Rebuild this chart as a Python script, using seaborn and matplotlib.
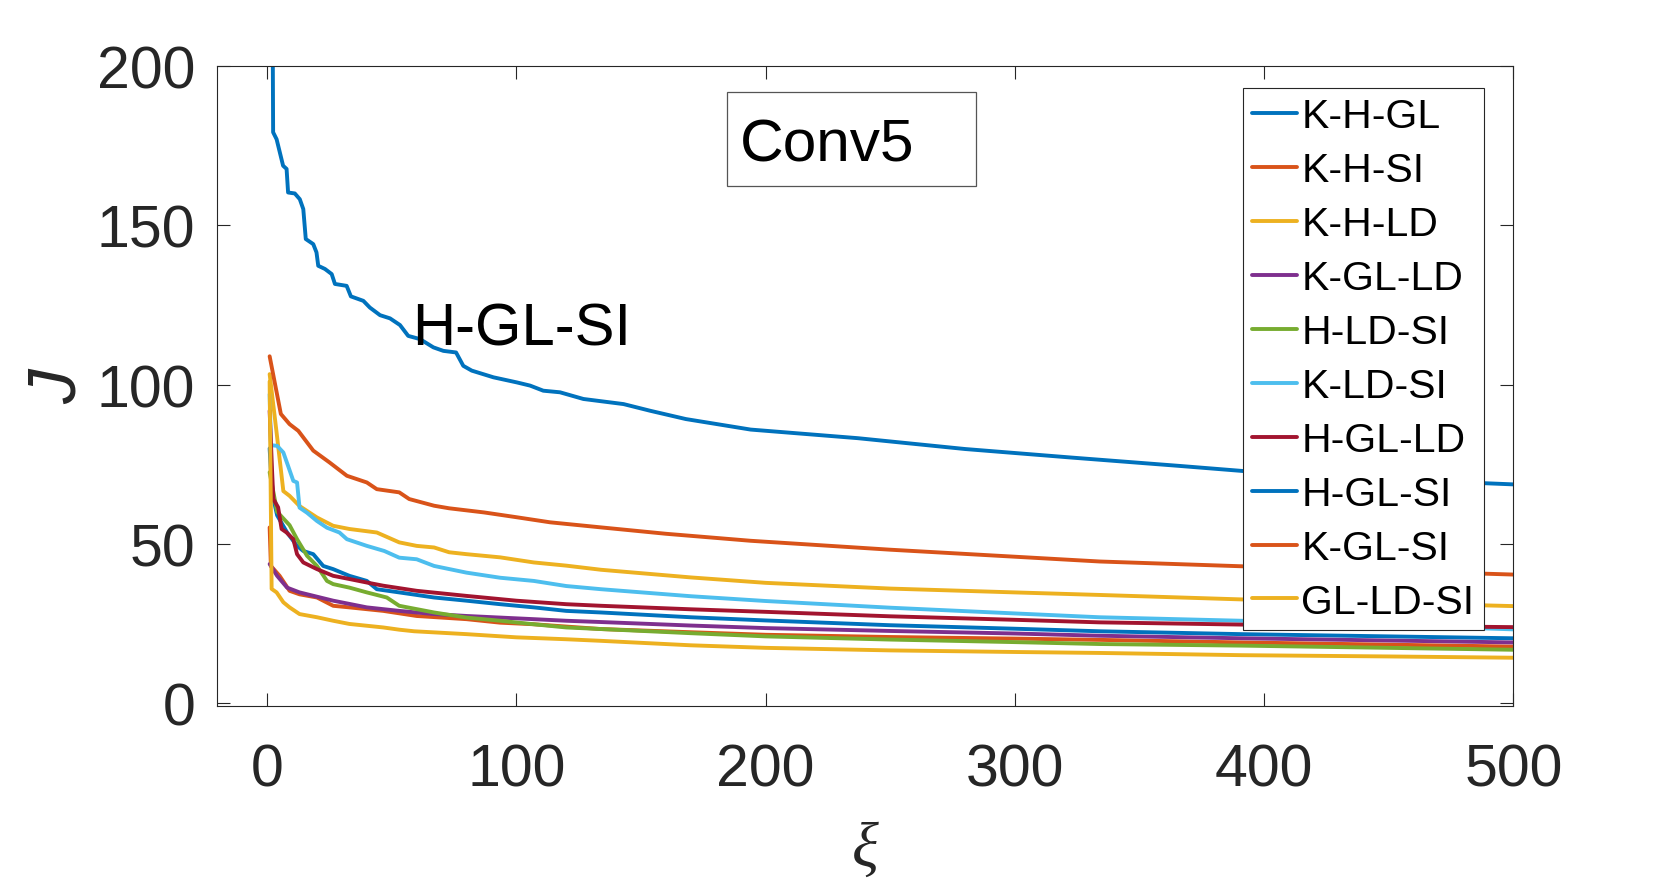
import matplotlib
matplotlib.use("Agg")
import matplotlib.pyplot as plt
import numpy as np
import pandas as pd
import seaborn as sns
from matplotlib.patches import Rectangle

# ---- data ----
labels = ["K-H-GL", "K-H-SI", "K-H-LD", "K-GL-LD", "H-LD-SI",
          "K-LD-SI", "H-GL-LD", "H-GL-SI", "K-GL-SI", "GL-LD-SI"]
colors = ["#0072BD", "#D95319", "#EDB120", "#7E2F8E", "#77AC30",
          "#4DBEEE", "#A2142F", "#0072BD", "#D95319", "#EDB120"]

x_khgl = [1, 2, 4, 8, 12, 14.5, 18.5, 22.5, 26.5, 33, 40, 44, 53, 67, 80, 93.5, 107, 120, 134, 170, 200, 250, 300, 334, 391, 450, 500]
y_khgl = [80, 66, 59, 53.6, 49.4, 47.8, 46.8, 43.1, 42.1, 40.0, 38.4, 35.8, 34.8, 33.2, 32.2, 31.1, 30.1, 29.0, 28.5, 27.0, 26.0, 24.5, 23.4, 22.6, 21.7, 21.0, 20.4]

x_khsi = [1, 1.5, 5, 9, 13, 20, 26.5, 33, 46.6, 60, 80, 93.5, 107, 134, 170, 200, 250, 300, 334, 391, 450, 500]
y_khsi = [55.2, 43.1, 40.0, 35.3, 34.2, 33.2, 30.6, 30.1, 29.0, 27.4, 26.4, 25.3, 24.8, 23.3, 22.3, 21.5, 20.8, 20.3, 19.9, 19.1, 18.4, 17.8]

x_khld = [1, 3.8, 6.5, 9, 13, 20, 26.5, 33, 44, 53, 60, 67, 73, 80, 93.5, 107, 120, 134, 170, 200, 250, 300, 334, 391, 450, 500]
y_khld = [103.3, 84.9, 66.6, 65.1, 61.9, 58.3, 55.7, 54.7, 53.6, 50.5, 49.4, 48.9, 47.4, 46.8, 45.8, 44.2, 43.2, 41.9, 39.5, 37.8, 36.0, 34.8, 34.0, 32.6, 31.5, 30.5]

x_kglld = [1, 4, 8, 13, 26.5, 40, 53, 67, 80, 93.5, 107, 120, 134, 170, 200, 250, 300, 334, 391, 450, 500]
y_kglld = [43.7, 40.0, 36.3, 34.8, 32.2, 30.1, 29.0, 28.0, 27.4, 26.9, 26.4, 25.9, 25.5, 24.4, 23.6, 22.7, 21.9, 21.2, 20.4, 19.7, 19.1]

x_hldsi = [1, 4, 6.5, 9, 12, 16, 20, 24, 26.5, 33, 40, 48, 53, 67, 80, 93.5, 107, 120, 134, 170, 200, 250, 300, 334, 391, 450, 500]
y_hldsi = [72.5, 60.1, 58.0, 55.9, 51.5, 46.3, 43.1, 38.4, 37.4, 36.3, 34.8, 33.2, 30.6, 28.5, 26.9, 25.9, 24.8, 23.8, 23.3, 22.0, 21.0, 20.0, 19.2, 18.6, 18.1, 17.4, 16.8]

x_kldsi = [1, 1.5, 4, 6.5, 8.4, 10.5, 12, 13, 16, 20, 24, 29, 32, 40, 47, 53, 60, 67, 80, 93.5, 107, 120, 134, 170, 200, 250, 300, 334, 391, 450, 500]
y_kldsi = [97, 81, 80.8, 78.7, 74.5, 69.8, 69.3, 61.4, 59.8, 57.2, 55.1, 53.6, 51.5, 49.4, 47.8, 45.7, 45.2, 43.1, 41.0, 39.4, 38.4, 36.8, 35.8, 33.6, 32.1, 30.0, 28.2, 27.0, 25.9, 24.5, 23.2]

x_hglld = [1, 2, 2.5, 4.4, 5.8, 7.8, 10.5, 12, 14.5, 20, 26.5, 33, 40, 46.6, 60, 80, 100, 120, 134, 170, 200, 250, 300, 334, 391, 450, 500]
y_hglld = [91.8, 72.5, 64.1, 61.5, 54.7, 53.6, 51.5, 46.8, 44.2, 42.1, 40.0, 39.0, 37.9, 36.9, 35.3, 33.7, 32.2, 31.1, 30.6, 29.5, 28.7, 27.3, 26.2, 25.4, 24.7, 24.3, 23.9]

x_hglsi = [1, 2, 2.4, 3.8, 6.4, 7.8, 8.4, 11.1, 13.1, 14.5, 15.5, 18.5, 19.8, 20.5, 23.2, 25.9, 27.2, 31.9, 33.6, 38.6, 41.2, 45.3, 49.3, 53.3, 56.6, 61.3, 66.7, 70.7, 75.8, 78.7, 82.1, 90.8, 100.2, 105.5, 110.8, 117.5, 126.9, 143, 153.7, 168, 194, 237, 280, 323, 366, 409, 450, 500]
y_hglsi = [320, 250, 179.2, 177, 168.7, 167.7, 160.3, 160, 158.2, 155.1, 145.7, 144.1, 141.5, 137.3, 136.3, 134.7, 131.6, 131.0, 127.7, 126.3, 124.2, 121.8, 120.8, 118.7, 115.3, 114.3, 111.7, 110.6, 110.1, 105.9, 104.4, 102.3, 100.7, 99.7, 98.1, 97.6, 95.5, 93.9, 91.8, 89.2, 85.9, 83.2, 79.8, 77.1, 74.5, 71.8, 70.3, 68.7]

x_kglsi = [1, 5.5, 9, 12.5, 18.5, 25, 32, 40, 44, 53, 57, 67, 73, 87, 100, 113.5, 134, 160, 194, 250, 300, 334, 391, 450, 500]
y_kglsi = [108.9, 90.8, 87.6, 85.5, 79.3, 75.6, 71.4, 69.3, 67.2, 66.2, 64.1, 62.0, 61.2, 59.9, 58.4, 56.8, 55.2, 53.2, 51.0, 48.2, 46.0, 44.5, 43.0, 41.6, 40.4]

x_glldsi = [1, 1.8, 3.8, 6.5, 9, 13, 20, 26.5, 33, 46.6, 53, 59, 80, 100, 120, 134, 170, 200, 250, 300, 334, 391, 450, 500]
y_glldsi = [101, 35.9, 34.8, 31.7, 30.1, 28.0, 27.0, 25.9, 24.9, 23.8, 23.1, 22.6, 21.7, 20.7, 20.1, 19.6, 18.2, 17.4, 16.6, 16.1, 15.8, 15.1, 14.7, 14.3]

x_ticks = [0, 100, 200, 300, 400, 500]
y_ticks = [0, 50, 100, 150, 200]

series_x = [x_khgl, x_khsi, x_khld, x_kglld, x_hldsi, x_kldsi, x_hglld, x_hglsi, x_kglsi, x_glldsi]
series_y = [y_khgl, y_khsi, y_khld, y_kglld, y_hldsi, y_kldsi, y_hglld, y_hglsi, y_kglsi, y_glldsi]

df = pd.concat(
    [pd.DataFrame({"xi": xs, "J": ys, "method": lab})
     for lab, xs, ys in zip(labels, series_x, series_y)],
    ignore_index=True)

# ---- style ----
sns.set_style("ticks")
plt.rcParams["font.family"] = ["Liberation Sans", "DejaVu Sans"]
dark = "#262626"

W, H = 1671, 887
fig = plt.figure(figsize=(W / 100, H / 100), dpi=100)
ax = fig.add_axes([217.3 / W, 1 - 707 / H, (1513.3 - 217.3) / W, (707 - 67) / H])

sns.lineplot(data=df, x="xi", y="J", hue="method", hue_order=labels,
             palette=colors, estimator=None, sort=False, linewidth=2.8,
             ax=ax, legend=True)

ax.set_xlim(-20, 500)
ax.set_ylim(-0.85, 200)
ax.set_xticks(x_ticks)
ax.set_yticks(y_ticks)
ax.tick_params(direction="in", top=True, right=True, length=9.4, width=0.8,
               colors=dark, labelsize=42.5)
ax.tick_params(axis="x", pad=26)
ax.tick_params(axis="y", pad=16)
for s in ax.spines.values():
    s.set_visible(True)
    s.set_color(dark)
    s.set_linewidth(0.8)

ax.set_xlabel("ξ", fontsize=45, fontfamily="Liberation Serif",
              fontstyle="italic", color=dark)
ax.xaxis.set_label_coords(0.5, -0.181)
ax.set_ylabel("J", fontsize=50, fontstyle="italic", color=dark)
ax.yaxis.set_label_coords(-0.0985, 0.5)

# annotation near the top curve
ax.text(58.2, 112.7, "H-GL-SI", fontsize=43, va="baseline", ha="left", color="black")

# legend
handles, labs = ax.get_legend_handles_labels()
leg = ax.legend(handles, labs, loc="upper left",
                bbox_to_anchor=(1243.3 / W, 1 - 89 / H),
                bbox_transform=fig.transFigure, borderaxespad=0,
                fontsize=29.5, frameon=True, fancybox=False, framealpha=1,
                edgecolor=dark, borderpad=0.22, labelspacing=0.39,
                handlelength=1.1, handletextpad=0.1)
leg.get_frame().set_linewidth(0.8)
for t in leg.get_texts():
    t.set_color("black")
for h in leg.get_lines():
    h.set_linewidth(2.8)

# "Conv5" text box
fig.add_artist(Rectangle((727.3 / W, 1 - 186.7 / H), (976 - 727.3) / W,
                         (186.7 - 93.3) / H, transform=fig.transFigure,
                         fill=False, edgecolor="#555555", linewidth=0.9))
fig.text(740 / W, 1 - 161.7 / H, "Conv5", fontsize=43.5, va="baseline",
         ha="left", color="black")

fig.savefig("out.png", dpi=100)
